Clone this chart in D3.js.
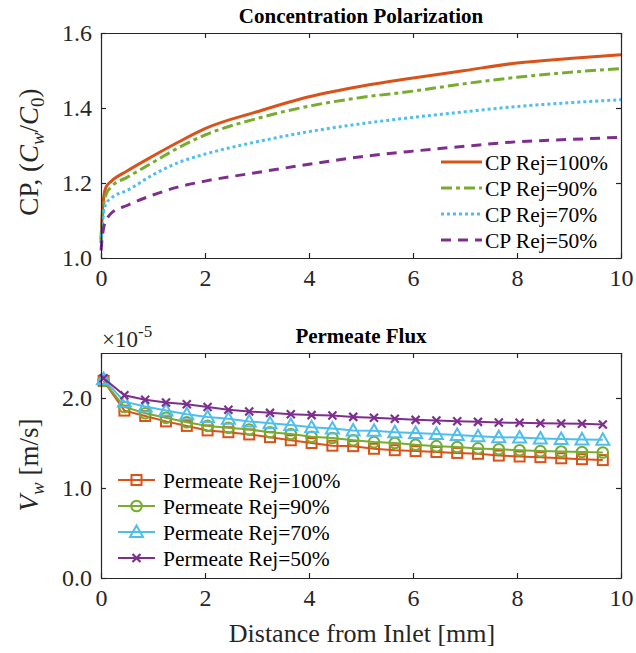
<!DOCTYPE html>
<html>
<head>
<meta charset="utf-8">
<script src="https://cdn.jsdelivr.net/npm/d3@7"></script>
<style>
  body { margin: 0; background: #fff; }
  svg text { font-family: "Liberation Serif", "Times New Roman", Times, serif !important; }
</style>
</head>
<body>
<svg width="636" height="653"></svg>
<script>
// ---- data ----
var cpX = [0, 0.02, 0.05, 0.1, 0.2, 0.5, 1, 1.5, 2, 3, 4, 5, 6, 7, 8, 9, 10];
var cp100 = [1.05, 1.11, 1.16, 1.19, 1.205, 1.232, 1.272, 1.31, 1.345, 1.39, 1.43, 1.458, 1.48, 1.50, 1.52, 1.532, 1.542];
var cp90  = [1.04, 1.09, 1.14, 1.17, 1.19, 1.215, 1.255, 1.295, 1.328, 1.372, 1.405, 1.428, 1.445, 1.465, 1.482, 1.495, 1.505];
var cp70  = [1.04, 1.08, 1.12, 1.145, 1.16, 1.18, 1.222, 1.255, 1.277, 1.31, 1.337, 1.358, 1.375, 1.39, 1.404, 1.414, 1.422];
var cp50  = [1.02, 1.05, 1.08, 1.10, 1.12, 1.14, 1.168, 1.19, 1.205, 1.228, 1.25, 1.27, 1.285, 1.298, 1.31, 1.316, 1.322];

// permeate flux, units of 1e-5 m/s
var fluxX = [0.05, 0.45, 0.85, 1.25, 1.65, 2.05, 2.45, 2.85, 3.25, 3.65, 4.05, 4.45, 4.85,
             5.25, 5.65, 6.05, 6.45, 6.85, 7.25, 7.65, 8.05, 8.45, 8.85, 9.25, 9.65];
var flux100 = [2.19, 1.86, 1.80, 1.74, 1.69, 1.64, 1.62, 1.595, 1.565, 1.53, 1.50, 1.47, 1.465,
               1.436, 1.42, 1.41, 1.40, 1.39, 1.38, 1.36, 1.35, 1.343, 1.33, 1.32, 1.31];
var flux90  = [2.19, 1.90, 1.83, 1.78, 1.73, 1.69, 1.67, 1.65, 1.62, 1.60, 1.57, 1.555, 1.53,
               1.51, 1.50, 1.48, 1.465, 1.455, 1.44, 1.43, 1.42, 1.41, 1.405, 1.40, 1.395];
var flux70  = [2.21, 1.96, 1.905, 1.86, 1.82, 1.79, 1.77, 1.74, 1.72, 1.70, 1.675, 1.66, 1.64,
               1.635, 1.62, 1.61, 1.60, 1.59, 1.575, 1.565, 1.56, 1.55, 1.545, 1.54, 1.535];
var flux50  = [2.22, 2.03, 1.98, 1.95, 1.93, 1.90, 1.87, 1.85, 1.835, 1.82, 1.81, 1.805, 1.79,
               1.78, 1.77, 1.757, 1.75, 1.742, 1.735, 1.727, 1.724, 1.72, 1.716, 1.713, 1.705];

var xTicks = [0, 2, 4, 6, 8, 10];
var cpTicks = [1.0, 1.2, 1.4, 1.6];
var fluxTicks = [0, 1, 2];

var cpNames = ["CP Rej=100%", "CP Rej=90%", "CP Rej=70%", "CP Rej=50%"];
var fluxNames = ["Permeate Rej=100%", "Permeate Rej=90%", "Permeate Rej=70%", "Permeate Rej=50%"];

function main() {
  var svg = d3.select("svg");
  var colors = ["#D95319", "#77AC30", "#4DBEEE", "#7E2F8E"];
  var dashes = [null, "11,4,4,4", "3,3", "10,7"];
  var axisCol = "#262626";
  var serif = "Liberation Serif, Times New Roman, serif";

  var left = 101, right = 621;
  var x = d3.scaleLinear().domain([0, 10]).range([left, right]);

  // box with inside ticks on all four sides
  function frame(y, top, bottom, yTicks, fmt) {
    var g = svg.append("g");
    g.append("g").attr("transform", "translate(0," + bottom + ")")
      .call(d3.axisBottom(x).tickValues(xTicks).tickSizeInner(-5).tickSizeOuter(0).tickPadding(11).tickFormat(d3.format("d")));
    g.append("g").attr("transform", "translate(0," + top + ")")
      .call(d3.axisTop(x).tickValues(xTicks).tickSizeInner(-5).tickSizeOuter(0).tickFormat(""));
    g.append("g").attr("transform", "translate(" + left + ",0)")
      .call(d3.axisLeft(y).tickValues(yTicks).tickSizeInner(-5).tickSizeOuter(0).tickPadding(9).tickFormat(fmt));
    g.append("g").attr("transform", "translate(" + right + ",0)")
      .call(d3.axisRight(y).tickValues(yTicks).tickSizeInner(-5).tickSizeOuter(0).tickFormat(""));
    g.selectAll("g").attr("font-family", serif);
    g.selectAll(".domain").attr("stroke", axisCol).attr("stroke-width", 1.2);
    g.selectAll(".tick line").attr("stroke", axisCol).attr("stroke-width", 1.2);
    g.selectAll(".tick text").attr("fill", axisCol).attr("font-size", 24);
    return g;
  }

  // ---------- top panel ----------
  var y1 = d3.scaleLinear().domain([1.0, 1.6]).range([258, 33]);
  var cpSeries = [cp100, cp90, cp70, cp50];
  var line1 = d3.line().x(function(d) { return x(d[0]); }).y(function(d) { return y1(d[1]); })
    .curve(d3.curveMonotoneX);

  cpSeries.forEach(function(s, i) {
    svg.append("path")
      .datum(cpX.map(function(v, j) { return [v, s[j]]; }))
      .attr("d", line1)
      .attr("fill", "none")
      .attr("stroke", colors[i])
      .attr("stroke-width", 3)
      .attr("stroke-dasharray", dashes[i]);
  });
  frame(y1, 33, 258, cpTicks, d3.format(".1f"));

  svg.append("text").attr("x", 361).attr("y", 23).attr("text-anchor", "middle")
    .attr("font-weight", "bold").attr("font-size", 21).attr("fill", "#000")
    .text("Concentration Polarization");

  var yl1 = svg.append("text").attr("transform", "translate(38,152) rotate(-90)")
    .attr("text-anchor", "middle").attr("font-size", 27).attr("fill", axisCol);
  yl1.append("tspan").text("CP, (");
  yl1.append("tspan").attr("font-style", "italic").text("C");
  yl1.append("tspan").attr("font-style", "italic").attr("font-size", 19).attr("dy", 6).text("w");
  yl1.append("tspan").attr("dy", -6).text("/");
  yl1.append("tspan").attr("font-style", "italic").text("C");
  yl1.append("tspan").attr("font-size", 19).attr("dy", 6).text("0");
  yl1.append("tspan").attr("dy", -6).text(")");

  // legend top
  var lg1 = svg.append("g");
  cpNames.forEach(function(name, i) {
    var yy = 162 + i * 26;
    lg1.append("line").attr("x1", 441).attr("x2", 482).attr("y1", yy).attr("y2", yy)
      .attr("stroke", colors[i]).attr("stroke-width", 3).attr("stroke-dasharray", dashes[i]);
    lg1.append("text").attr("x", 485).attr("y", yy + 7.5).attr("font-size", 21.5)
      .attr("fill", "#000").text(name);
  });

  // ---------- bottom panel ----------
  var y2 = d3.scaleLinear().domain([0, 2.5]).range([578, 353]);
  var fluxSeries = [flux100, flux90, flux70, flux50];
  var line2 = d3.line().x(function(d) { return x(d[0]); }).y(function(d) { return y2(d[1]); });

  function marker(g, kind, cx, cy, col) {
    if (kind === 0) {
      g.append("rect").attr("x", cx - 5).attr("y", cy - 5).attr("width", 10).attr("height", 10)
        .attr("fill", "none").attr("stroke", col).attr("stroke-width", 2);
    } else if (kind === 1) {
      g.append("circle").attr("cx", cx).attr("cy", cy).attr("r", 5.3)
        .attr("fill", "none").attr("stroke", col).attr("stroke-width", 2);
    } else if (kind === 2) {
      g.append("path").attr("d", "M" + cx + "," + (cy - 6.5) + "L" + (cx + 6.5) + "," + (cy + 5) + "L" + (cx - 6.5) + "," + (cy + 5) + "Z")
        .attr("fill", "none").attr("stroke", col).attr("stroke-width", 2);
    } else {
      g.append("path").attr("d", "M" + (cx - 4) + "," + (cy - 4) + "L" + (cx + 4) + "," + (cy + 4) +
        "M" + (cx - 4) + "," + (cy + 4) + "L" + (cx + 4) + "," + (cy - 4))
        .attr("fill", "none").attr("stroke", col).attr("stroke-width", 2.2);
    }
  }

  fluxSeries.forEach(function(s, i) {
    var pts = fluxX.map(function(v, j) { return [v, s[j]]; });
    var g = svg.append("g");
    g.append("path").datum(pts).attr("d", line2)
      .attr("fill", "none").attr("stroke", colors[i]).attr("stroke-width", 2);
    pts.forEach(function(p) { marker(g, i, x(p[0]), y2(p[1]), colors[i]); });
  });
  frame(y2, 353, 578, fluxTicks, d3.format(".1f"));

  svg.append("text").attr("x", 361).attr("y", 343).attr("text-anchor", "middle")
    .attr("font-weight", "bold").attr("font-size", 21).attr("fill", "#000")
    .text("Permeate Flux");

  var ex = svg.append("text").attr("x", 102).attr("y", 347).attr("font-size", 23).attr("fill", axisCol);
  ex.append("tspan").text("\u00d710");
  ex.append("tspan").attr("dy", -10).attr("font-size", 17).text("-5");

  var yl2 = svg.append("text").attr("transform", "translate(38,465) rotate(-90)")
    .attr("text-anchor", "middle").attr("font-size", 27).attr("fill", axisCol);
  yl2.append("tspan").attr("font-style", "italic").text("V");
  yl2.append("tspan").attr("font-style", "italic").attr("font-size", 19).attr("dy", 6).text("w");
  yl2.append("tspan").attr("dy", -6).text(" [m/s]");

  svg.append("text").attr("x", 362).attr("y", 642).attr("text-anchor", "middle")
    .attr("font-size", 26).attr("fill", axisCol).text("Distance from Inlet [mm]");

  // legend bottom
  var lg2 = svg.append("g");
  fluxNames.forEach(function(name, i) {
    var yy = 480 + i * 26;
    lg2.append("line").attr("x1", 118).attr("x2", 155).attr("y1", yy).attr("y2", yy)
      .attr("stroke", colors[i]).attr("stroke-width", 2);
    marker(lg2, i, 136.5, yy, colors[i]);
    lg2.append("text").attr("x", 163).attr("y", yy + 7.5).attr("font-size", 21.5)
      .attr("fill", "#000").text(name);
  });
}
main();
</script>
</body>
</html>
